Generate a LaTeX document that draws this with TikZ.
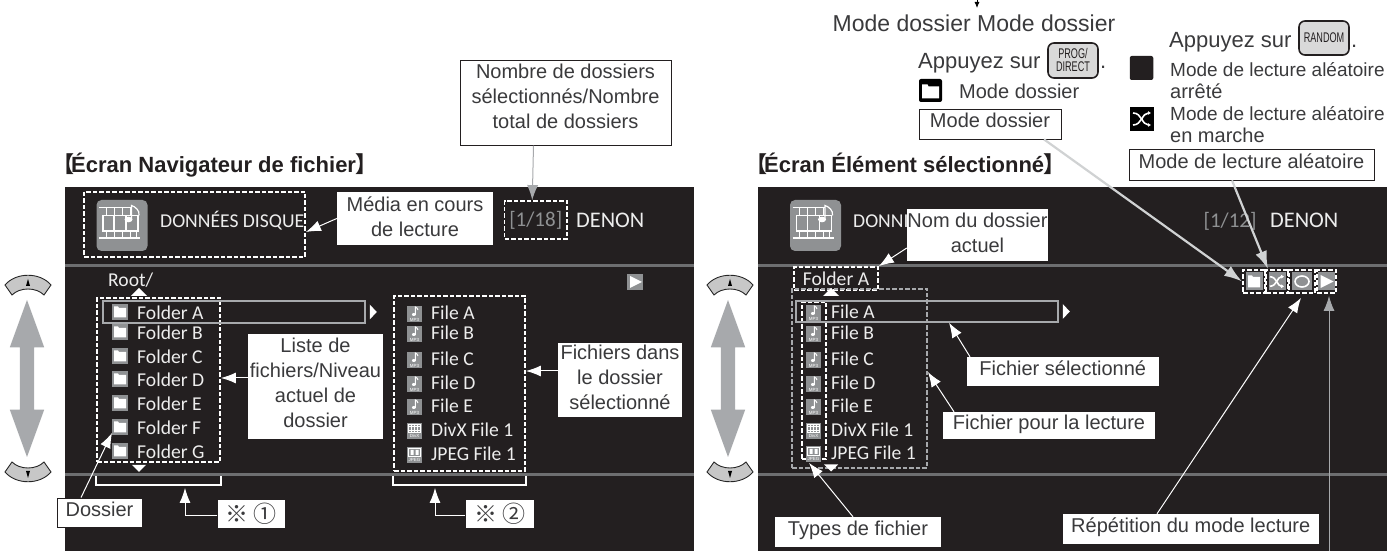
\documentclass[tikz,border=0pt]{standalone}
\usepackage{fontspec}
\usepackage{xcolor}
\usetikzlibrary{arrows.meta, shapes.arrows}
\setmainfont{Liberation Sans}
\newfontfamily\screenfont{Carlito}
\newfontfamily\cjkfont{Noto Sans CJK JP}
\newfontfamily\narrowfont{Liberation Sans}[FakeStretch=0.65]
\definecolor{screendark}{HTML}{231F20}
\definecolor{labelink}{HTML}{3A3A3C}
\definecolor{icongray}{HTML}{8F9193}
\definecolor{linegray}{HTML}{6D6E70}
\definecolor{screenwhite}{HTML}{EDEDED}
\definecolor{arrowgray}{HTML}{A7A9AC}
\definecolor{arrowlight}{HTML}{D0D2D3}
\tikzset{
    screenbox/.style = {draw=none, fill=screendark, rectangle, inner sep=0pt, minimum width=629pt, minimum height=364pt},
    textnode/.style = {draw=none, fill=none, rectangle, inner sep=0pt, text=labelink,
      font=\fontsize{20}{25}\selectfont, text height=14.3pt, text depth=0pt},
    bigtextnode/.style = {textnode, font=\fontsize{22}{25}\selectfont, text height=15.8pt},
    titlenode/.style = {textnode, text=screendark, font=\fontsize{22}{25}\selectfont\bfseries, text height=15.8pt},
    screentext/.style = {draw=none, fill=none, rectangle, inner sep=0pt, text=screenwhite,
      font=\fontsize{19.6}{21}\screenfont\selectfont, text height=12.6pt, text depth=0pt},
    whitebox/.style = {draw=none, fill=white, rectangle, inner sep=0pt, align=center, text=labelink,
      font=\fontsize{20}{25}\selectfont},
    framebox/.style = {whitebox, draw=screendark, line width=0.8pt},
    oneline/.style = {text height=14.3pt, text depth=7pt},
    dashnode/.style = {draw=white, rectangle, line width=1.8pt, dash pattern=on 4.5pt off 2pt, inner sep=0pt},
    graydash/.style = {dashnode, draw=arrowgray},
    selnode/.style = {draw=arrowgray, rectangle, line width=1.5pt, inner sep=0pt},
    keynode/.style = {draw=screendark, fill=black!15, rectangle, rounded corners=6pt, line width=1.6pt,
      inner sep=0pt, align=center, text=screendark},
    dblarrow/.style = {shape=double arrow, fill=arrowgray, draw=none, rotate=90, inner sep=7pt, minimum height=157pt,
      double arrow head extend=10pt, double arrow tip angle=40, double arrow head indent=0pt},
    whitearrow/.style = {white, line width=1pt, -{Latex[length=15pt,width=11pt]}},
    grayarrow/.style = {arrowgray, line width=1pt, -{Latex[length=15pt,width=11pt]}},
    lightarrow/.style = {arrowlight, line width=2.2pt, -{Latex[length=18pt,width=12pt]}},
    bracketline/.style = {white, line width=1.3pt},
    sepline/.style = {linegray, line width=3pt},
    uptri/.pic = {\fill [white] (-8,-4) -- (8,-4) -- (0,4) -- cycle;},
    downtri/.pic = {\fill [white] (-7,3.5) -- (7,3.5) -- (0,-3.5) -- cycle;},
    righttri/.pic = {\fill [white] (-3.5,-7.5) -- (-3.5,7.5) -- (3.5,0) -- cycle;},
    navup/.pic = {
      \draw [fill=black!22, draw=black!85, line width=0.9pt] (-23,0) .. controls (-12,13) and (12,13) .. (23,0)
        -- (16,-10) .. controls (8,-2) and (-8,-2) .. (-16,-10) -- cycle;
      \fill [black] (-2,-1) -- (2,-1) -- (0,6) -- cycle;},
    navdown/.pic = {
      \draw [fill=black!22, draw=black!85, line width=0.9pt] (-23,0) .. controls (-12,-13) and (12,-13) .. (23,0)
        -- (16,10) .. controls (8,2) and (-8,2) .. (-16,10) -- cycle;
      \fill [black] (-2,1) -- (2,1) -- (0,-6) -- cycle;},
    filmicon/.pic = {
      \fill [icongray, rounded corners=5pt] (-25.5,-25.5) rectangle (25.5,25.5);
      \draw [white, line width=1.2pt] (-23,18) -- (9,18) (-23,-12.5) -- (18,-12.5);
      \draw [white, line width=1.6pt] (-19,-5.5) rectangle (16,10) (-8,-5.5) -- (-8,10) (4,-5.5) -- (4,10);
      \draw [white, line width=1pt] (-16,10) -- (-16,18) (-8,10) -- (-8,18) (0,10) -- (0,18) (8,10) -- (8,18)
        (-16,-5.5) -- (-16,-12.5) (-8,-5.5) -- (-8,-12.5) (0,-5.5) -- (0,-12.5) (8,-5.5) -- (8,-12.5) (14,-5.5) -- (14,-12.5);
      \draw [white, line width=1.2pt] (9.5,6) -- (9.5,20) .. controls (13,19) and (18,15) .. (17,10);
      \fill [white] (6.5,6) ellipse (4pt and 2.8pt);},
    foldericon/.pic = {
      \fill [icongray] (-8,-8) rectangle (8,8);
      \fill [white] (-6,-5.5) -- (-6,5.5) -- (-2,5.5) -- (-1,4) -- (6,4) -- (6,-5.5) -- cycle;},
    mpicon/.pic = {
      \fill [icongray] (-7.5,-9) rectangle (7.5,7);
      \draw [white, line width=1pt] (0.8,-1.5) -- (0.8,6) .. controls (2,5.5) and (3.5,4.5) .. (3.5,3);
      \fill [white] (-0.6,-1.5) ellipse (2pt and 1.5pt);
      \node [inner sep=0pt, text=white, font=\fontsize{4.5}{5}\selectfont] at (0,-6.5) {MP3};},
    divxicon/.pic = {
      \fill [icongray] (-7.5,-9) rectangle (7.5,7);
      \draw [white, line width=0.6pt] (-6,-2) rectangle (6,5.5) (-6,3.5) -- (6,3.5) (-6,0) -- (6,0)
        (-3,-2) -- (-3,5.5) (0,-2) -- (0,5.5) (3,-2) -- (3,5.5);
      \node [inner sep=0pt, text=white, font=\fontsize{4.5}{5}\selectfont] at (0,-6) {DivX};},
    jpgicon/.pic = {
      \fill [icongray] (-7.5,-9) rectangle (7.5,7);
      \draw [white, line width=0.8pt] (-6,-2.5) rectangle (6,5.5);
      \fill [white] (-4,-1) rectangle (-1,4) (1,-1) rectangle (4,4);
      \node [inner sep=0pt, text=white, font=\fontsize{4.5}{5}\selectfont] at (0,-6) {JPEG};},
    playicon/.pic = {
      \fill [icongray] (-8,-8) rectangle (8,8);
      \fill [white] (-5,-6) -- (-5,6) -- (7,0) -- cycle;},
    foldblack/.pic = {
      \fill [black, rounded corners=2pt] (-11.5,-11.5) rectangle (11.5,11.5);
      \fill [white] (-8.5,-8) -- (-8.5,6) -- (-3,6) -- (-2,4) -- (8.5,4) -- (8.5,-8) -- cycle;},
    shufflelines/.pic = {
      \draw [white, line width=1.6pt, -{Latex[length=3pt,width=4pt]}] (-9,-6) .. controls (0,-6) and (0,6) .. (9,6);
      \draw [white, line width=1.6pt, -{Latex[length=3pt,width=4pt]}] (-9,6) .. controls (0,6) and (0,-6) .. (9,-6);},
    shufflebig/.pic = {
      \fill [black] (-12,-12) rectangle (12,12);
      \pic {shufflelines};},
    shufflesmall/.pic = {
      \fill [icongray] (-8.5,-9) rectangle (8.5,9);
      \pic [scale=0.8] {shufflelines};},
    repeaticon/.pic = {
      \fill [icongray] (-10,-9) rectangle (10,9);
      \draw [white, line width=1.6pt] (0,0) ellipse (7pt and 5.5pt);},
    folderstat/.pic = {
      \fill [icongray] (-8.5,-9) rectangle (8.5,9);
      \fill [white] (-6,-6) -- (-6,6) -- (-2,6) -- (-1,4.5) -- (6,4.5) -- (6,-6) -- cycle;},
    playstat/.pic = {
      \fill [icongray] (-8.5,-9) rectangle (8.5,9);
      \fill [white] (-6,-6.5) -- (-6,6.5) -- (7,0) -- cycle;}
}
\newcommand{\brk}[1]{{\cjkfont\bfseries #1}}
\newcommand{\lift}[1]{\rule[-#1]{0pt}{0pt}}
\begin{document}
\begin{tikzpicture}[x=1pt, y=1pt, node distance=0pt]
    \useasboundingbox (0,0) rectangle (1387,551);
    \coordinate (orgl) at (65,364);
    \coordinate (orgr) at (758,364);

    \node [name=screenl, screenbox, right of = orgl, xshift=314.5pt, yshift=-182pt] {};
    \node [name=screenr, screenbox, right of = orgr, xshift=314.5pt, yshift=-182pt] {};
    \draw [sepline] ([yshift=-79pt]screenl.north west) -- ([yshift=-79pt]screenl.north east);
    \draw [sepline] ([yshift=-288pt]screenl.north west) -- ([yshift=-288pt]screenl.north east);
    \draw [sepline] ([yshift=-79pt]screenr.north west) -- ([yshift=-79pt]screenr.north east);
    \draw [sepline] ([yshift=-288pt]screenr.north west) -- ([yshift=-288pt]screenr.north east);

    \node [name=titlel, titlenode, right of = orgl, xshift=-13pt, yshift=22pt, anchor=west] {\brk{【}\hspace{-3pt}Écran Navigateur de fichier\hspace{-1pt}\brk{】}};
    \node [name=titler, titlenode, right of = orgr, xshift=-13pt, yshift=22pt, anchor=west] {\brk{【}\hspace{-3pt}Écran Élément sélectionné\hspace{-1pt}\brk{】}};

    \pic at ([xshift=-37pt,yshift=-98pt]orgl) {navup};
    \pic at ([xshift=-37pt,yshift=-285pt]orgl) {navdown};
    \node [name=navl, dblarrow] at ([xshift=-38pt,yshift=-191.5pt]orgl) {};
    \pic at ([xshift=-28pt,yshift=-98pt]orgr) {navup};
    \pic at ([xshift=-28pt,yshift=-285pt]orgr) {navdown};
    \node [name=navr, dblarrow] at ([xshift=-30pt,yshift=-191.5pt]orgr) {};

    \node [name=nombre, framebox, minimum width=211pt, minimum height=85pt, right of = orgl, xshift=500.5pt, yshift=84.25pt] {Nombre de dossiers\\sélectionnés/Nombre\\total de dossiers\lift{12pt}};

    \node [name=dashmedia, dashnode, minimum width=221pt, minimum height=65pt, right of = orgl, xshift=129.5pt, yshift=-37.5pt] {};
    \pic at ([xshift=57pt,yshift=-38.5pt]orgl) {filmicon};
    \node [name=disquel, screentext, right of = orgl, xshift=95pt, yshift=-34pt, anchor=west] {DONNÉES DISQUE};
    \node [name=media, whitebox, minimum width=156pt, minimum height=53pt, right of = orgl, xshift=350pt, yshift=-31.5pt] {Média en cours\\de lecture\lift{4pt}};
    \node [name=dashcount, dashnode, minimum width=62.5pt, minimum height=38pt, text=icongray, right of = orgl, xshift=470.75pt, yshift=-33pt, font=\fontsize{21}{22}\screenfont\selectfont] {[1/18]};
    \node [name=denonl, screentext, font=\fontsize{22.3}{23}\screenfont\selectfont, right of = orgl, xshift=511pt, yshift=-34pt, anchor=west] {DENON};
    \pic at ([xshift=570pt,yshift=-95pt]orgl) {playicon};

    \node [name=rootl, screentext, right of = orgl, xshift=43pt, yshift=-93pt, anchor=west] {Root/};
    \pic at ([xshift=74pt,yshift=-105pt]orgl) {uptri};
    \pic at ([xshift=74pt,yshift=-281.5pt]orgl) {downtri};
    \node [name=dashfol, dashnode, minimum width=123pt, minimum height=164pt, right of = orgl, xshift=93.5pt, yshift=-193pt] {};
    \node [name=sell, selnode, minimum width=262pt, minimum height=22pt, right of = orgl, xshift=169pt, yshift=-125pt] {};
    \pic at ([xshift=7.5pt]sell.east) {righttri};

    \node [name=foa, screentext, right of = orgl, xshift=72pt, yshift=-126pt, anchor=west] {Folder A};
    \node [name=fob, screentext, right of = orgl, xshift=72pt, yshift=-146pt, anchor=west] {Folder B};
    \node [name=foc, screentext, right of = orgl, xshift=72pt, yshift=-170pt, anchor=west] {Folder C};
    \node [name=fod, screentext, right of = orgl, xshift=72pt, yshift=-193pt, anchor=west] {Folder D};
    \node [name=foe, screentext, right of = orgl, xshift=72pt, yshift=-217pt, anchor=west] {Folder E};
    \node [name=fof, screentext, right of = orgl, xshift=72pt, yshift=-241pt, anchor=west] {Folder F};
    \node [name=fog, screentext, right of = orgl, xshift=72pt, yshift=-265pt, anchor=west] {Folder G};
    \pic at ([xshift=-17pt,yshift=1pt]foa.west) {foldericon};
    \pic at ([xshift=-17pt,yshift=1pt]fob.west) {foldericon};
    \pic at ([xshift=-17pt,yshift=1pt]foc.west) {foldericon};
    \pic at ([xshift=-17pt,yshift=1pt]fod.west) {foldericon};
    \pic at ([xshift=-17pt,yshift=1pt]foe.west) {foldericon};
    \pic at ([xshift=-17pt,yshift=1pt]fof.west) {foldericon};
    \pic at ([xshift=-17pt,yshift=1pt]fog.west) {foldericon};

    \node [name=dashfile, dashnode, minimum width=131pt, minimum height=175pt, right of = orgl, xshift=394.5pt, yshift=-196.5pt] {};
    \node [name=fla, screentext, right of = orgl, xshift=366pt, yshift=-126pt, anchor=west] {File A};
    \node [name=flb, screentext, right of = orgl, xshift=366pt, yshift=-146pt, anchor=west] {File B};
    \node [name=flc, screentext, right of = orgl, xshift=366pt, yshift=-172pt, anchor=west] {File C};
    \node [name=fld, screentext, right of = orgl, xshift=366pt, yshift=-196pt, anchor=west] {File D};
    \node [name=fle, screentext, right of = orgl, xshift=366pt, yshift=-219pt, anchor=west] {File E};
    \node [name=flf, screentext, right of = orgl, xshift=366pt, yshift=-243pt, anchor=west] {DivX File 1};
    \node [name=flg, screentext, right of = orgl, xshift=366pt, yshift=-267pt, anchor=west] {JPEG File 1};
    \pic at ([xshift=-16.5pt]fla.west) {mpicon};
    \pic at ([xshift=-16.5pt]flb.west) {mpicon};
    \pic at ([xshift=-16.5pt]flc.west) {mpicon};
    \pic at ([xshift=-16.5pt]fld.west) {mpicon};
    \pic at ([xshift=-16.5pt]fle.west) {mpicon};
    \pic at ([xshift=-16.5pt]flf.west) {divxicon};
    \pic at ([xshift=-16.5pt]flg.west) {jpgicon};

    \node [name=liste, whitebox, minimum width=135pt, minimum height=105pt, right of = orgl, xshift=250.5pt, yshift=-199.5pt] {Liste de\\fichiers/Niveau\\actuel de\\dossier\lift{8pt}};
    \node [name=fichiers, whitebox, minimum width=124pt, minimum height=74pt, right of = orgl, xshift=555pt, yshift=-193pt] {Fichiers dans\\le dossier\\sélectionné\lift{6pt}};
    \node [name=note1, whitebox, minimum width=67.5pt, minimum height=28pt, right of = orgl, xshift=186.25pt, yshift=-327pt, font=\fontsize{23}{25}\cjkfont\selectfont] {※ ①};
    \node [name=note2, whitebox, minimum width=68.5pt, minimum height=28pt, right of = orgl, xshift=434.75pt, yshift=-327pt, font=\fontsize{23}{25}\cjkfont\selectfont] {※ ②};
    \node [name=dossier, framebox, oneline, minimum width=85pt, minimum height=29pt, right of = orgl, xshift=34.5pt, yshift=-325.5pt] {Dossier};

    \draw [bracketline] ([yshift=-13pt]dashfol.south west) |- ([yshift=-22pt]dashfol.south) -| ([yshift=-13pt]dashfol.south east);
    \draw [bracketline] ([yshift=-4pt]dashfile.south west) |- ([yshift=-13pt]dashfile.south) -| ([yshift=-4pt]dashfile.south east);

    \draw [whitearrow] (media.west) -- ([yshift=-7.5pt]dashmedia.east);
    \draw [grayarrow] ([xshift=-32pt]nombre.south) -- ([xshift=-3.5pt]dashcount.north);
    \draw [whitearrow] ([yshift=8.5pt]liste.west) -- ([yshift=2pt]dashfol.east);
    \draw [whitearrow] ([yshift=9pt]fichiers.west) -- ([yshift=12.5pt]dashfile.east);
    \draw [whitearrow] ([xshift=-18.5pt]dossier.north) -- ([xshift=-25pt,yshift=-5pt]fof.west);
    \draw [whitearrow] ([yshift=-2pt]note1.west) -| ([xshift=26.5pt,yshift=-25pt]dashfol.south);
    \draw [whitearrow] ([yshift=-2pt]note2.west) -| ([xshift=-24.5pt,yshift=-16pt]dashfile.south);

    \coordinate [right of = orgr, xshift=219pt, yshift=187pt] (toparrow);
    \draw (toparrow) edge[black, line width=0.8pt, -{Latex[length=6pt,width=5pt]}] ([yshift=-8pt]toparrow);
    \node [name=modetop, textnode, font=\fontsize{23}{25}\selectfont, text height=16.5pt, right of = orgr, xshift=216pt, yshift=164pt] {Mode dossier Mode dossier};

    \node [name=appuya, bigtextnode, right of = orgr, xshift=160pt, yshift=126pt, anchor=west] {Appuyez sur};
    \node [name=keyprog, keynode, minimum width=50pt, minimum height=35pt, font=\fontsize{14}{13}\narrowfont\selectfont, right of = orgr, xshift=315pt, yshift=126.5pt] {PROG/\\DIRECT};
    \node [name=dota, bigtextnode, right of = orgr, xshift=342pt, yshift=126pt, anchor=west] {.};
    \pic at ([xshift=172.5pt,yshift=96.5pt]orgr) {foldblack};
    \node [name=modefree, textnode, right of = orgr, xshift=201pt, yshift=96pt, anchor=west] {Mode dossier};
    \node [name=modebox, framebox, oneline, minimum width=142pt, minimum height=30pt, right of = orgr, xshift=232pt, yshift=63pt] {Mode dossier};

    \node [name=appuyb, bigtextnode, right of = orgr, xshift=411pt, yshift=147pt, anchor=west] {Appuyez sur};
    \node [name=keyrand, keynode, minimum width=50pt, minimum height=34pt, font=\fontsize{14}{13}\narrowfont\selectfont, right of = orgr, xshift=566pt, yshift=149pt] {RANDOM};
    \node [name=dotb, bigtextnode, right of = orgr, xshift=593pt, yshift=147pt, anchor=west] {.};
    \node [name=stopsq, draw=none, fill=screendark, rectangle, rounded corners=2pt, minimum width=23.5pt, minimum height=24pt, right of = orgr, xshift=383.5pt, yshift=119pt] {};
    \node [name=lecta, textnode, font=\fontsize{19}{25}\selectfont, right of = orgr, xshift=412pt, yshift=118pt, anchor=west] {Mode de lecture aléatoire};
    \node [name=lectb, textnode, right of = orgr, xshift=412pt, yshift=96pt, anchor=west] {arrêté};
    \pic at ([xshift=384pt,yshift=68pt]orgr) {shufflebig};
    \node [name=lectc, textnode, font=\fontsize{19}{25}\selectfont, right of = orgr, xshift=412pt, yshift=74pt, anchor=west] {Mode de lecture aléatoire};
    \node [name=lectd, textnode, right of = orgr, xshift=412pt, yshift=52pt, anchor=west] {en marche};
    \node [name=lectbox, framebox, oneline, minimum width=245pt, minimum height=31pt, right of = orgr, xshift=493.5pt, yshift=22.5pt] {Mode de lecture aléatoire};

    \pic at ([xshift=57.5pt,yshift=-38.5pt]orgr) {filmicon};
    \node [name=disquer, screentext, right of = orgr, xshift=95pt, yshift=-34pt, anchor=west] {DONNI};
    \node [name=nomdos, whitebox, minimum width=141pt, minimum height=52pt, right of = orgr, xshift=219.5pt, yshift=-48pt] {Nom du dossier\\actuel\lift{4pt}};
    \node [name=countr, screentext, text=icongray, font=\fontsize{21}{22}\screenfont\selectfont, right of = orgr, xshift=472pt, yshift=-34pt] {[1/12]};
    \node [name=denonr, screentext, font=\fontsize{22.3}{23}\screenfont\selectfont, right of = orgr, xshift=512pt, yshift=-34pt, anchor=west] {DENON};

    \node [name=dashfa, dashnode, text=screenwhite, minimum width=84pt, minimum height=23pt, font=\fontsize{19.6}{21}\screenfont\selectfont, right of = orgr, xshift=78pt, yshift=-91.5pt] {Folder A};
    \node [name=dashplay, graydash, minimum width=135pt, minimum height=179pt, right of = orgr, xshift=101.5pt, yshift=-191.5pt] {};
    \node [name=dashtype, dashnode, minimum width=24pt, minimum height=157pt, right of = orgr, xshift=56pt, yshift=-193.5pt] {};
    \node [name=selr, selnode, minimum width=262pt, minimum height=21pt, right of = orgr, xshift=169pt, yshift=-124.5pt] {};
    \pic at ([xshift=7.5pt]selr.east) {righttri};
    \pic at ([xshift=73pt,yshift=-105pt]orgr) {uptri};
    \pic at ([xshift=73pt,yshift=-281pt]orgr) {downtri};

    \node [name=fra, screentext, right of = orgr, xshift=73pt, yshift=-125pt, anchor=west] {File A};
    \node [name=frb, screentext, right of = orgr, xshift=73pt, yshift=-146pt, anchor=west] {File B};
    \node [name=frc, screentext, right of = orgr, xshift=73pt, yshift=-172pt, anchor=west] {File C};
    \node [name=frd, screentext, right of = orgr, xshift=73pt, yshift=-196pt, anchor=west] {File D};
    \node [name=fre, screentext, right of = orgr, xshift=73pt, yshift=-219pt, anchor=west] {File E};
    \node [name=frf, screentext, right of = orgr, xshift=73pt, yshift=-243pt, anchor=west] {DivX File 1};
    \node [name=frg, screentext, right of = orgr, xshift=73pt, yshift=-266pt, anchor=west] {JPEG File 1};
    \pic at ([xshift=-17.5pt]fra.west) {mpicon};
    \pic at ([xshift=-17.5pt]frb.west) {mpicon};
    \pic at ([xshift=-17.5pt]frc.west) {mpicon};
    \pic at ([xshift=-17.5pt]frd.west) {mpicon};
    \pic at ([xshift=-17.5pt]fre.west) {mpicon};
    \pic at ([xshift=-17.5pt]frf.west) {divxicon};
    \pic at ([xshift=-17.5pt]frg.west) {jpgicon};

    \node [name=stata, dashnode, minimum width=22pt, minimum height=23pt, right of = orgr, xshift=496pt, yshift=-94.5pt] {};
    \node [name=statb, dashnode, minimum width=22pt, minimum height=23pt, right of = orgr, xshift=519pt, yshift=-94.5pt] {};
    \node [name=statc, dashnode, minimum width=26pt, minimum height=23pt, right of = orgr, xshift=544pt, yshift=-94.5pt] {};
    \node [name=statd, dashnode, minimum width=19pt, minimum height=23pt, right of = orgr, xshift=568.5pt, yshift=-94.5pt] {};
    \pic at (stata) {folderstat};
    \pic at (statb) {shufflesmall};
    \pic at (statc) {repeaticon};
    \pic at (statd) {playstat};

    \node [name=fsel, whitebox, oneline, minimum width=192.5pt, minimum height=29pt, right of = orgr, xshift=304.75pt, yshift=-184.5pt] {Fichier sélectionné};
    \node [name=fplay, whitebox, oneline, minimum width=212pt, minimum height=27pt, right of = orgr, xshift=291pt, yshift=-238.5pt] {Fichier pour la lecture};
    \node [name=types, whitebox, oneline, minimum width=166pt, minimum height=30pt, right of = orgr, xshift=100pt, yshift=-345pt] {Types de fichier};
    \node [name=repet, whitebox, oneline, minimum width=256.5pt, minimum height=30pt, right of = orgr, xshift=432.75pt, yshift=-342pt] {Répétition du mode lecture};

    \draw [lightarrow] ([xshift=54pt]modebox.south) -- (stata.west);
    \draw [lightarrow] ([xshift=-19.5pt]lectbox.south) -- ([xshift=-9pt]statb.north);
    \draw [whitearrow] ([yshift=-13pt]nomdos.west) -- (dashfa.north east);
    \draw [whitearrow] ([xshift=-92.75pt]fsel.north) -- ([xshift=22pt]selr.south);
    \draw [whitearrow] ([xshift=-95pt]fplay.north) -- ([yshift=6.5pt]dashplay.east);
    \draw [whitearrow] ([xshift=-5pt]types.north) -- ([xshift=-5pt,yshift=-3pt]dashtype.south);
    \draw [whitearrow] ([xshift=-33.75pt]repet.north) -- ([xshift=-1pt,yshift=-4pt]statc.south);
    \coordinate [right of = orgr, xshift=571pt, yshift=-364pt] (playfoot);
    \draw [grayarrow] (playfoot) -- ([xshift=2.5pt,yshift=-2pt]statd.south);
\end{tikzpicture}
\end{document}
